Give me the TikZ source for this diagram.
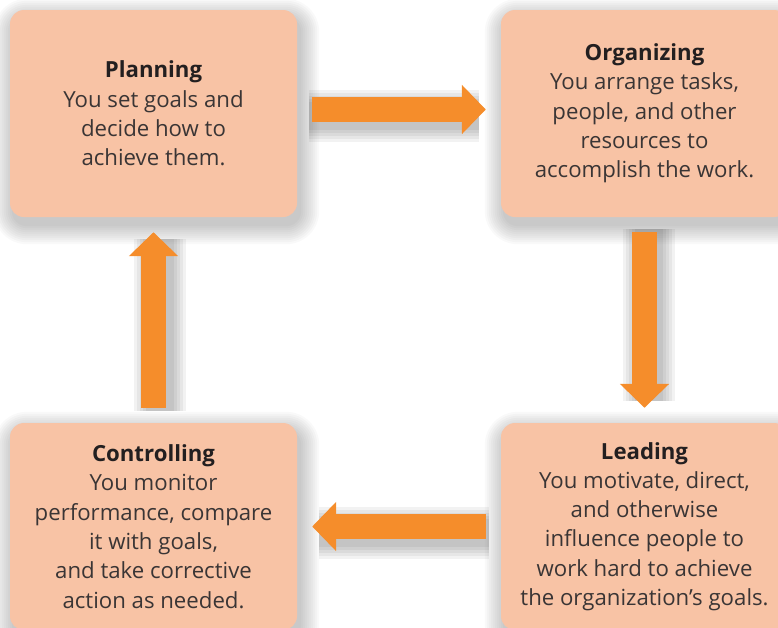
\documentclass[tikz,border=0pt]{standalone}
\usepackage{fontspec}
\setmainfont{Open Sans}
\usetikzlibrary{positioning,arrows.meta,backgrounds}

\definecolor{boxfill}{HTML}{F8C3A5}
\definecolor{arroworange}{HTML}{F58D2B}
\definecolor{bodytext}{HTML}{3A3535}
\definecolor{headtext}{HTML}{231F20}

\tikzset{
	stage/.style={rectangle, rounded corners=14pt, fill=boxfill,
		minimum width=287pt, minimum height=207pt, align=center,
		text=bodytext, font=\fontsize{22.2}{29.3}\selectfont},
	flow/.style={draw=arroworange, line width=25pt,
		-{Triangle[length=24pt, width=48pt]},
		shorten <=15pt, shorten >=15pt},
	haze/.style={draw=black, opacity=0.05,
		shorten <=12pt, shorten >=22pt},
}
\newcommand{\stagename}[1]{{\bfseries\color{headtext}#1}}

\begin{document}
\begin{tikzpicture}[x=1pt, y=-1pt]
	\useasboundingbox (0,0) rectangle (778,627);

	% the four stages
	\node[stage] (plan) at (153.5,113.5) {\stagename{Planning}\\You set goals and\\decide how to\\achieve them.};
	\node[stage] (org) at (644.5,113.5) {\stagename{Organizing}\\You arrange tasks,\\people, and other\\resources to\\accomplish the work.};
	\node[stage] (lead) at (644.5,526.5) {\stagename{Leading}\\You motivate, direct,\\and otherwise\\influence people to\\work hard to achieve\\the organization’s goals.};
	\node[stage] (ctrl) at (153.5,526.5) {\stagename{Controlling}\\You monitor\\performance, compare\\it with goals,\\and take corrective\\action as needed.};

	% soft shadows behind the stages
	\begin{scope}[on background layer]
		\foreach \n in {plan,org,lead,ctrl}
			\foreach \s in {1,3,...,19} {
				\pgfmathsetmacro{\rr}{14+\s}
				\fill[black, opacity=0.025, rounded corners=\rr pt]
					([shift={(3-\s,8-\s)}]\n.north west) rectangle ([shift={(3+\s,8+\s)}]\n.south east);
			}
	\end{scope}

	% soft shading under the arrows
	\foreach \w in {28,34,40,46,52} {
		\draw[haze, line width=\w pt] ([yshift=-2pt]plan.east) -- ([yshift=-2pt]org.west);
		\draw[haze, line width=\w pt] ([xshift=4pt]org.south) -- ([xshift=4pt]lead.north);
		\draw[haze, line width=\w pt] ([yshift=-6pt]lead.west) -- ([yshift=-6pt]ctrl.east);
		\draw[haze, line width=\w pt] ([xshift=6pt]ctrl.north) -- ([xshift=6pt]plan.south);
	}

	% the cycle
	\draw[flow] ([yshift=4pt]plan.east) -- ([yshift=4pt]org.west);
	\draw[flow] (org.south) -- (lead.north);
	\draw[flow] (lead.west) -- (ctrl.east);
	\draw[flow] (ctrl.north) -- (plan.south);
\end{tikzpicture}
\end{document}
